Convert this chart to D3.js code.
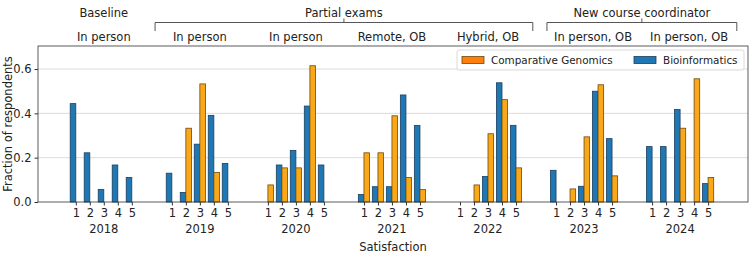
<!DOCTYPE html>
<html>
<head>
<meta charset="utf-8">
<script src="https://cdn.jsdelivr.net/npm/d3@7"></script>
<style>
  body { margin: 0; background: #fff; }
  text { font-family: "DejaVu Sans", sans-serif; fill: #222; }
</style>
</head>
<body>
<div id="chart"></div>
<script>
// data
const years = ["2018", "2019", "2020", "2021", "2022", "2023", "2024"];
const formats = ["In person", "In person", "In person", "Remote, OB", "Hybrid, OB", "In person, OB", "In person, OB"];
const satisfaction = [1, 2, 3, 4, 5];
const bioinformatics = [
    [0.444, 0.222, 0.056, 0.167, 0.111],
    [0.130, 0.043, 0.261, 0.391, 0.174],
    [0.000, 0.167, 0.233, 0.433, 0.167],
    [0.034, 0.069, 0.069, 0.483, 0.345],
    [0.000, 0.000, 0.115, 0.538, 0.346],
    [0.143, 0.000, 0.071, 0.500, 0.286],
    [0.250, 0.250, 0.417, 0.000, 0.083]
];
const compGenomics = [
    null,
    [0.000, 0.333, 0.533, 0.133, 0.000],
    [0.077, 0.154, 0.154, 0.615, 0.000],
    [0.222, 0.222, 0.389, 0.111, 0.056],
    [0.000, 0.077, 0.308, 0.462, 0.154],
    [0.000, 0.059, 0.294, 0.529, 0.118],
    [0.000, 0.000, 0.333, 0.556, 0.111]
];
const yTicks = [0, 0.2, 0.4, 0.6];
const phases = [
    {label: "Baseline", from: 0, to: 0, bracket: false},
    {label: "Partial exams", from: 1, to: 4, bracket: true},
    {label: "New course coordinator", from: 5, to: 6, bracket: true}
];

const W = 750, H = 254;
const margin = {top: 46, right: 2, bottom: 52, left: 38};
const width = W - margin.left - margin.right;
const height = H - margin.top - margin.bottom;
const groupStep = 6.86;

const pos = (g, s) => g * groupStep + (s - 1);

const x = d3.scaleLinear()
    .domain([-2.7, pos(6, 5) + 2.85])
    .range([0, width]);
const y = d3.scaleLinear()
    .domain([0, 0.704])
    .range([height, 0]);

const svg = d3.select("#chart").append("svg")
    .attr("width", W)
    .attr("height", H);

const g = svg.append("g")
    .attr("transform", `translate(${margin.left},${margin.top})`);

// grid
g.append("g")
    .selectAll("line")
    .data(yTicks.slice(1))
    .join("line")
    .attr("x1", 0).attr("x2", width)
    .attr("y1", d => y(d)).attr("y2", d => y(d))
    .attr("stroke", "#dcdcdc")
    .attr("stroke-width", 1);

// bars
const barW = x(0.4) - x(0);
let blueBars = [], orangeBars = [];
years.forEach((yr, gi) => {
    satisfaction.forEach((s, si) => {
        blueBars.push({g: gi, s: s, v: bioinformatics[gi][si]});
        if (compGenomics[gi]) orangeBars.push({g: gi, s: s, v: compGenomics[gi][si]});
    });
});

g.append("g").selectAll("rect")
    .data(blueBars)
    .join("rect")
    .attr("x", d => x(pos(d.g, d.s) - 0.4))
    .attr("y", d => y(d.v))
    .attr("width", barW)
    .attr("height", d => height - y(d.v))
    .attr("fill", "#1f77b4")
    .attr("stroke", "#1b3f5e")
    .attr("stroke-width", 0.8);

g.append("g").selectAll("rect")
    .data(orangeBars)
    .join("rect")
    .attr("x", d => x(pos(d.g, d.s)))
    .attr("y", d => y(d.v))
    .attr("width", barW)
    .attr("height", d => height - y(d.v))
    .attr("fill", "#f9a81a")
    .attr("stroke", "#6e4a10")
    .attr("stroke-width", 0.8);

// frame
g.append("rect")
    .attr("width", width).attr("height", height)
    .attr("fill", "none")
    .attr("stroke", "#333")
    .attr("stroke-width", 0.8);

// y axis
const yAxis = d3.axisLeft(y)
    .tickValues(yTicks)
    .tickFormat(d3.format(".1f"))
    .tickSize(3.5)
    .tickPadding(3);
const gy = g.append("g").call(yAxis);
gy.select(".domain").remove();
gy.selectAll("text").attr("font-size", 11.5).attr("fill", "#222");
gy.selectAll("line").attr("stroke", "#333");

// x axis
const xTickVals = [];
years.forEach((yr, gi) => satisfaction.forEach(s => xTickVals.push({g: gi, s: s})));
const xAxis = d3.axisBottom(x)
    .tickValues(xTickVals.map(d => pos(d.g, d.s)))
    .tickFormat((d, i) => xTickVals[i].s)
    .tickSize(3.5)
    .tickPadding(3);
const gx = g.append("g")
    .attr("transform", `translate(0,${height})`)
    .call(xAxis);
gx.select(".domain").remove();
gx.selectAll("text").attr("font-size", 11.5).attr("fill", "#222");
gx.selectAll("line").attr("stroke", "#333");

// year labels
g.append("g").selectAll("text")
    .data(years)
    .join("text")
    .attr("x", (d, i) => x(pos(i, 3)))
    .attr("y", height + 31)
    .attr("text-anchor", "middle")
    .attr("font-size", 11.5)
    .text(d => d);

// axis titles
g.append("text")
    .attr("x", width / 2)
    .attr("y", height + 49)
    .attr("text-anchor", "middle")
    .attr("font-size", 11.5)
    .text("Satisfaction");

svg.append("text")
    .attr("transform", `translate(12,${margin.top + height / 2}) rotate(-90)`)
    .attr("text-anchor", "middle")
    .attr("font-size", 11.5)
    .text("Fraction of respondents");

// format labels above plot
const fmtShift = d => d.indexOf(", OB") > 0 && d.startsWith("In person") ? 9 : 0;
svg.append("g").selectAll("text")
    .data(formats)
    .join("text")
    .attr("x", (d, i) => margin.left + x(pos(i, 3)) + fmtShift(d))
    .attr("y", 41)
    .attr("text-anchor", "middle")
    .attr("font-size", 11.5)
    .text(d => d);

// phase labels + brackets
const bracketPad = [[0, 0], [-1.2, 1.2], [-0.65, 2.05]];
phases.forEach((p, i) => {
    const x0 = margin.left + x(pos(p.from, 1) + bracketPad[i][0]);
    const x1 = margin.left + x(pos(p.to, 5) + bracketPad[i][1]);
    const xc = p.bracket ? (x0 + x1) / 2 : margin.left + x(pos(p.from, 3));
    svg.append("text")
        .attr("x", xc)
        .attr("y", 17)
        .attr("text-anchor", "middle")
        .attr("font-size", 11.5)
        .text(p.label);
    if (p.bracket) {
        svg.append("path")
            .attr("d", `M${x0},31V22.5H${x1}V31M${xc},22.5V18.5`)
            .attr("fill", "none")
            .attr("stroke", "#444")
            .attr("stroke-width", 0.9);
    }
});

// legend
const legend = svg.append("g").attr("transform", "translate(457,50)");
legend.append("rect")
    .attr("width", 287).attr("height", 20)
    .attr("rx", 2)
    .attr("fill", "#fff")
    .attr("fill-opacity", 0.85)
    .attr("stroke", "#d0d0d0")
    .attr("stroke-width", 0.8);
const legendItems = [
    {label: "Comparative Genomics", color: "#ff7f0e", edge: "#6e4a10", x: 5},
    {label: "Bioinformatics", color: "#1f77b4", edge: "#1b3f5e", x: 177}
];
legendItems.forEach(it => {
    legend.append("rect")
        .attr("x", it.x).attr("y", 6.5)
        .attr("width", 22).attr("height", 7)
        .attr("fill", it.color)
        .attr("stroke", it.edge)
        .attr("stroke-width", 0.8);
    legend.append("text")
        .attr("x", it.x + 29).attr("y", 14)
        .attr("font-size", 10.4)
        .text(it.label);
});
</script>
</body>
</html>
